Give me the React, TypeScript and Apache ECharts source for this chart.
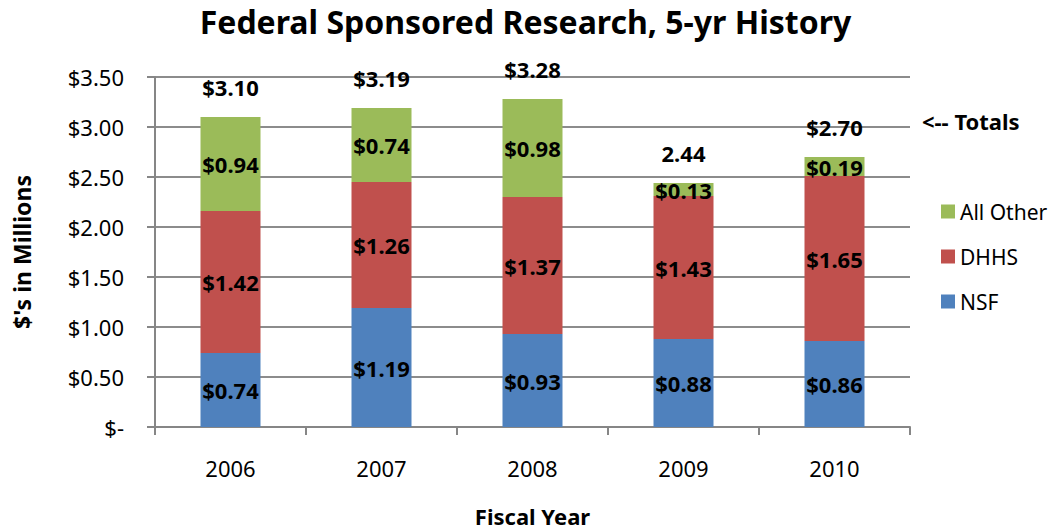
import React, { useEffect, useRef } from "react";
import * as echarts from "echarts";

const categories = ["2006", "2007", "2008", "2009", "2010"];
const nsf = [0.74, 1.19, 0.93, 0.88, 0.86];
const dhhs = [1.42, 1.26, 1.37, 1.43, 1.65];
const allOther = [0.94, 0.74, 0.98, 0.13, 0.19];
const totals = [3.1, 3.19, 3.28, 2.44, 2.7];
const totalLabels = ["$3.10", "$3.19", "$3.28", "2.44", "$2.70"];
const yTickLabels: Record<string, string> = {
  "0": "$-",
  "0.5": "$0.50",
  "1": "$1.00",
  "1.5": "$1.50",
  "2": "$2.00",
  "2.5": "$2.50",
  "3": "$3.00",
  "3.5": "$3.50",
};

const FONT = "'Noto Sans', sans-serif";

export default function App() {
  const ref = useRef<HTMLDivElement>(null);
  useEffect(() => {
    document.body.style.margin = "0";
    const chart = echarts.init(ref.current!, null, { renderer: "svg" });
    const barLabel = {
      show: true,
      position: "inside" as const,
      fontSize: 22,
      fontWeight: "bold" as const,
      color: "#000",
      fontFamily: FONT,
      formatter: (p: any) => "$" + Number(p.value).toFixed(2),
    };
    chart.setOption({
      animation: false,
      backgroundColor: "#fff",
      textStyle: { fontFamily: FONT },
      title: {
        text: "Federal Sponsored Research, 5-yr History",
        left: "center",
        top: 0,
        textStyle: { fontSize: 32, fontWeight: "bold", color: "#000", fontFamily: FONT },
      },
      legend: {
        orient: "vertical",
        left: 936,
        top: 196,
        itemGap: 24,
        itemWidth: 14,
        itemHeight: 14,
        icon: "rect",
        data: ["All Other", "DHHS", "NSF"],
        textStyle: { fontSize: 21, color: "#000", fontFamily: FONT },
      },
      grid: { left: 155, right: 141, top: 77, bottom: 105 },
      xAxis: {
        type: "category",
        data: categories,
        name: "Fiscal Year",
        nameLocation: "middle",
        nameGap: 78,
        nameTextStyle: { fontSize: 22, fontWeight: "bold", color: "#000", fontFamily: FONT },
        axisLine: { lineStyle: { color: "#868686", width: 2 } },
        axisTick: { show: true, length: 8, lineStyle: { color: "#868686", width: 2 } },
        axisLabel: { fontSize: 22, color: "#000", margin: 30, fontFamily: FONT },
      },
      yAxis: {
        type: "value",
        min: 0,
        max: 3.5,
        interval: 0.5,
        name: "$'s in Millions",
        nameLocation: "middle",
        nameGap: 122,
        nameRotate: 90,
        nameTextStyle: { fontSize: 23, fontWeight: "bold", color: "#000", fontFamily: FONT },
        axisLine: { show: true, lineStyle: { color: "#868686", width: 2 } },
        axisTick: { show: true, length: 8, lineStyle: { color: "#868686", width: 2 } },
        splitLine: { lineStyle: { color: "#8c8c8c", width: 2 } },
        axisLabel: {
          fontSize: 22,
          color: "#000",
          margin: 31,
          fontFamily: FONT,
          formatter: (v: number) => yTickLabels[String(v)] ?? "",
        },
      },
      series: [
        {
          name: "NSF",
          type: "bar",
          stack: "total",
          barWidth: 60,
          data: nsf,
          itemStyle: { color: "#4F81BD" },
          label: barLabel,
        },
        {
          name: "DHHS",
          type: "bar",
          stack: "total",
          barWidth: 60,
          data: dhhs,
          itemStyle: { color: "#C0504D" },
          label: barLabel,
        },
        {
          name: "All Other",
          type: "bar",
          stack: "total",
          barWidth: 60,
          data: allOther,
          itemStyle: { color: "#9BBB59" },
          label: barLabel,
        },
        {
          name: "Totals",
          type: "scatter",
          symbolSize: 1,
          data: totals,
          silent: true,
          itemStyle: { color: "rgba(0,0,0,0)", opacity: 1 },
          label: {
            show: true,
            position: "top",
            distance: 19,
            fontSize: 22,
            fontWeight: "bold",
            color: "#000",
            opacity: 1,
            fontFamily: FONT,
            formatter: (p: any) => totalLabels[p.dataIndex],
          },
        },
      ],
      graphic: [
        {
          type: "text",
          left: 922,
          top: 110,
          style: {
            text: "<-- Totals",
            fontSize: 22,
            fontWeight: "bold",
            fill: "#000",
            fontFamily: FONT,
          },
        },
      ],
    });
    return () => chart.dispose();
  }, []);
  return <div ref={ref} style={{ width: 1051, height: 532 }} />;
}
